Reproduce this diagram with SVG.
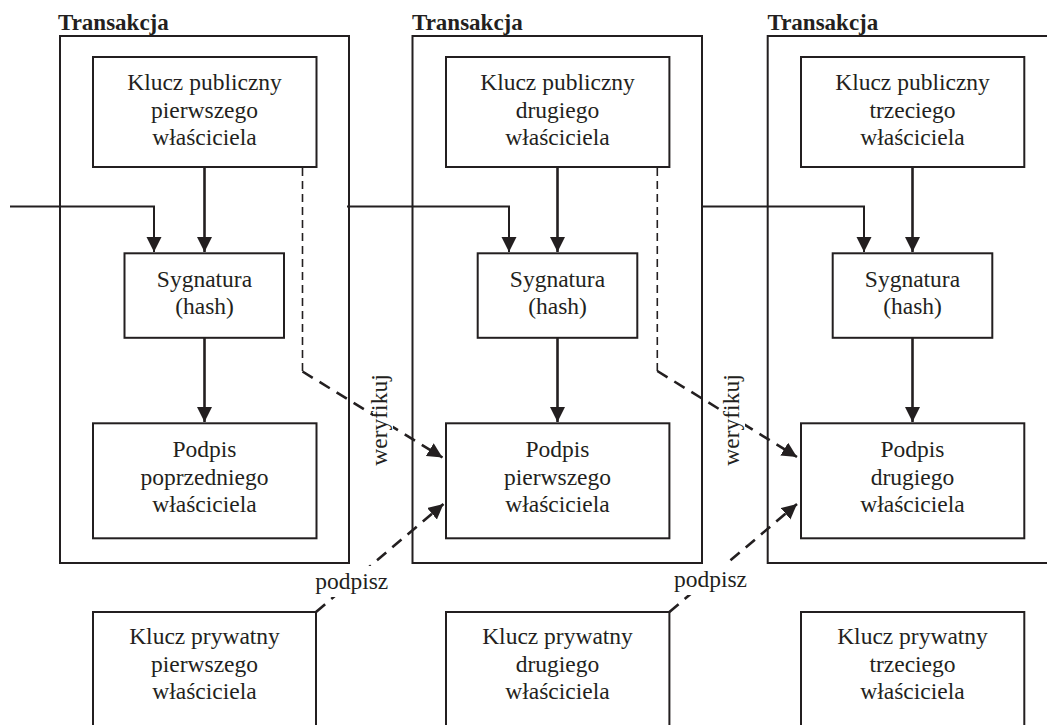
<svg xmlns="http://www.w3.org/2000/svg" width="1047" height="725" viewBox="0 0 1047 725">
<defs>
<style>
.tx{fill:none;stroke:#231f20;stroke-width:2}
.bx{fill:#fff;stroke:#231f20;stroke-width:2}
.t{font-family:'Liberation Serif','DejaVu Serif',serif;font-size:23.5px;fill:#231f20;text-anchor:middle}
.ti{font-family:'Liberation Serif','DejaVu Serif',serif;font-size:23px;font-weight:bold;fill:#231f20}
.sl{fill:none;stroke:#231f20;stroke-width:2.6}
.in{fill:none;stroke:#231f20;stroke-width:2}
.dv{fill:none;stroke:#231f20;stroke-width:1.6;stroke-dasharray:8 5}
.dd{fill:none;stroke:#231f20;stroke-width:2.6;stroke-dasharray:12 8}
.bg{fill:#fff}
</style>
<marker id="ah" markerUnits="userSpaceOnUse" markerWidth="16" markerHeight="16" refX="15" refY="7.5" orient="auto">
<path d="M0,0 L15,7.5 L0,15 z" fill="#231f20"/>
</marker>
</defs>
<rect width="1047" height="725" fill="#fff"/>

<g id="transakcja1">
<rect class="tx" x="60" y="36" width="289" height="527"/>
<text class="ti" x="58" y="29.5" font-family="Liberation Serif, serif">Transakcja</text>
</g>
<g id="transakcja2">
<rect class="tx" x="412.5" y="36" width="289.5" height="527"/>
<text class="ti" x="412" y="29.5" font-family="Liberation Serif, serif">Transakcja</text>
</g>
<g id="transakcja3">
<rect class="tx" x="767.7" y="36" width="300" height="527"/>
<text class="ti" x="767.5" y="29.5" font-family="Liberation Serif, serif">Transakcja</text>
</g>

<g id="connectors">
<path class="in" d="M10,206.5 H154 V252" marker-end="url(#ah)"/>
<path class="in" d="M347,206.5 H509 V252" marker-end="url(#ah)"/>
<path class="in" d="M703,206.5 H864 V252" marker-end="url(#ah)"/>
<path class="sl" d="M204.5,167 V252" marker-end="url(#ah)"/>
<path class="sl" d="M557.5,167 V252" marker-end="url(#ah)"/>
<path class="sl" d="M912.5,167 V252" marker-end="url(#ah)"/>
<path class="sl" d="M204.5,338 V422" marker-end="url(#ah)"/>
<path class="sl" d="M557.5,338 V422" marker-end="url(#ah)"/>
<path class="sl" d="M912.5,338 V422" marker-end="url(#ah)"/>
<path class="dv" d="M302.5,168 V371.5"/>
<path class="dd" d="M302.5,371.5 L442.5,457.5" marker-end="url(#ah)"/>
<path class="dv" d="M657.3,168 V371"/>
<path class="dd" d="M657.3,371 L797,457" marker-end="url(#ah)"/>
<path class="dd" d="M316,612 L443.5,504" marker-end="url(#ah)"/>
<path class="dd" d="M669.4,612 L797,504" marker-end="url(#ah)"/>
<rect class="bg" x="373" y="372" width="20" height="96"/>
<rect class="bg" x="725" y="372" width="20" height="96"/>
<rect class="bg" x="313" y="566" width="77" height="31"/>
<rect class="bg" x="671" y="564" width="79" height="31"/>
<g font-family="Liberation Serif, serif">
<text class="t" transform="translate(386.5,420) rotate(-90)">weryfikuj</text>
<text class="t" transform="translate(738.5,420) rotate(-90)">weryfikuj</text>
<text class="t" x="351.7" y="589">podpisz</text>
<text class="t" x="710.5" y="587">podpisz</text>
</g>
</g>

<g id="pub1">
<rect class="bx" x="93" y="57" width="223.5" height="110"/>
<text class="t" x="204.5" y="90">Klucz publiczny</text>
<text class="t" x="204.5" y="117.5">pierwszego</text>
<text class="t" x="204.5" y="145">właściciela</text>
</g>
<g id="pub2">
<rect class="bx" x="446" y="57" width="223.4" height="110"/>
<text class="t" x="557.5" y="90">Klucz publiczny</text>
<text class="t" x="557.5" y="117.5">drugiego</text>
<text class="t" x="557.5" y="145">właściciela</text>
</g>
<g id="pub3">
<rect class="bx" x="801" y="57" width="223.3" height="110"/>
<text class="t" x="912.5" y="90">Klucz publiczny</text>
<text class="t" x="912.5" y="117.5">trzeciego</text>
<text class="t" x="912.5" y="145">właściciela</text>
</g>

<g id="syg1">
<rect class="bx" x="124.5" y="253.3" width="159.5" height="84.5"/>
<text class="t" x="204.5" y="286.5">Sygnatura</text>
<text class="t" x="204.5" y="314">(hash)</text>
</g>
<g id="syg2">
<rect class="bx" x="477.7" y="253.3" width="159.6" height="84.5"/>
<text class="t" x="557.5" y="286.5">Sygnatura</text>
<text class="t" x="557.5" y="314">(hash)</text>
</g>
<g id="syg3">
<rect class="bx" x="832.7" y="253.3" width="159.6" height="84.5"/>
<text class="t" x="912.5" y="286.5">Sygnatura</text>
<text class="t" x="912.5" y="314">(hash)</text>
</g>

<g id="podpis1">
<rect class="bx" x="93" y="423.3" width="223.5" height="115"/>
<text class="t" x="204.5" y="456.5">Podpis</text>
<text class="t" x="204.5" y="484.5">poprzedniego</text>
<text class="t" x="204.5" y="512">właściciela</text>
</g>
<g id="podpis2">
<rect class="bx" x="446" y="423.3" width="223.4" height="115"/>
<text class="t" x="557.5" y="456.5">Podpis</text>
<text class="t" x="557.5" y="484.5">pierwszego</text>
<text class="t" x="557.5" y="512">właściciela</text>
</g>
<g id="podpis3">
<rect class="bx" x="801" y="423.3" width="223.3" height="115"/>
<text class="t" x="912.5" y="456.5">Podpis</text>
<text class="t" x="912.5" y="484.5">drugiego</text>
<text class="t" x="912.5" y="512">właściciela</text>
</g>

<g id="priv1">
<rect class="bx" x="93" y="612" width="223" height="130"/>
<text class="t" x="204.5" y="644">Klucz prywatny</text>
<text class="t" x="204.5" y="671.5">pierwszego</text>
<text class="t" x="204.5" y="699">właściciela</text>
</g>
<g id="priv2">
<rect class="bx" x="446" y="612" width="223.4" height="130"/>
<text class="t" x="557.5" y="644">Klucz prywatny</text>
<text class="t" x="557.5" y="671.5">drugiego</text>
<text class="t" x="557.5" y="699">właściciela</text>
</g>
<g id="priv3">
<rect class="bx" x="801" y="612" width="223.3" height="130"/>
<text class="t" x="912.5" y="644">Klucz prywatny</text>
<text class="t" x="912.5" y="671.5">trzeciego</text>
<text class="t" x="912.5" y="699">właściciela</text>
</g>
</svg>
